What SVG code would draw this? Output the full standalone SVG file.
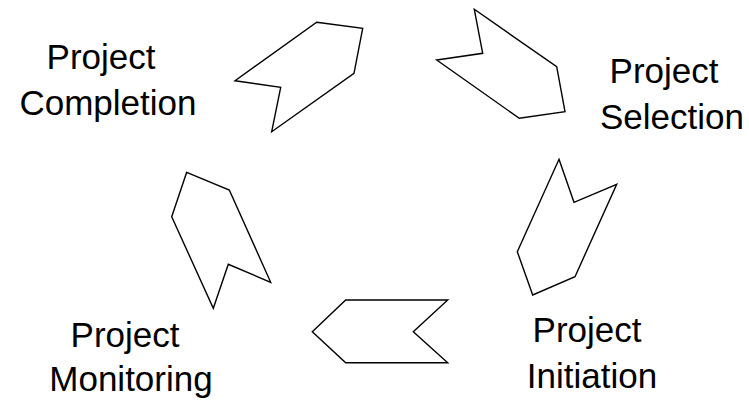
<svg xmlns="http://www.w3.org/2000/svg" width="749" height="401" viewBox="0 0 749 401">
  <style>
    .shape { fill: #ffffff; stroke: #000000; stroke-width: 1.4; stroke-linejoin: miter; }
    .label { font-family: "Liberation Sans", Arial, sans-serif; font-size: 35px; fill: #000000; text-anchor: middle; }
  </style>
  <rect width="749" height="401" fill="#ffffff"/>

  <g id="connectors">
    <!-- chevron arrows linking the five project stages -->
    <polygon id="arrow-completion-selection" class="shape" points="316.7,22.3 362.7,28.3 354,73.3 271.7,131.7 280.7,87.3 235,80.7"/>
    <polygon id="arrow-selection-initiation" class="shape" points="474.3,9.3 482.7,53.3 436.7,60 519.3,118.3 565,111.7 556.7,66.7"/>
    <polygon id="arrow-initiation-monitoring" class="shape" points="559,159.3 574,202.3 616.7,184.3 575,276.7 532.7,295 517.3,251.7"/>
    <polygon id="arrow-monitoring-completion" class="shape" points="345.7,300 447.7,300 413.3,331.7 447.7,362.7 345.7,362.7 312.3,331.7"/>
    <polygon id="arrow-completion-loop" class="shape" points="186.7,172.3 229.3,190 270.7,282.3 228.3,264.3 213.3,308.3 171.7,216.7"/>
  </g>

  <g id="node-completion">
    <text class="label" x="101" y="69">Project</text>
    <text class="label" x="108" y="115">Completion</text>
  </g>
  <g id="node-selection">
    <text class="label" x="664" y="83">Project</text>
    <text class="label" x="672" y="129">Selection</text>
  </g>
  <g id="node-initiation">
    <text class="label" x="587" y="342">Project</text>
    <text class="label" x="592" y="388">Initiation</text>
  </g>
  <g id="node-monitoring">
    <text class="label" x="125" y="347">Project</text>
    <text class="label" x="131" y="391">Monitoring</text>
  </g>
</svg>
